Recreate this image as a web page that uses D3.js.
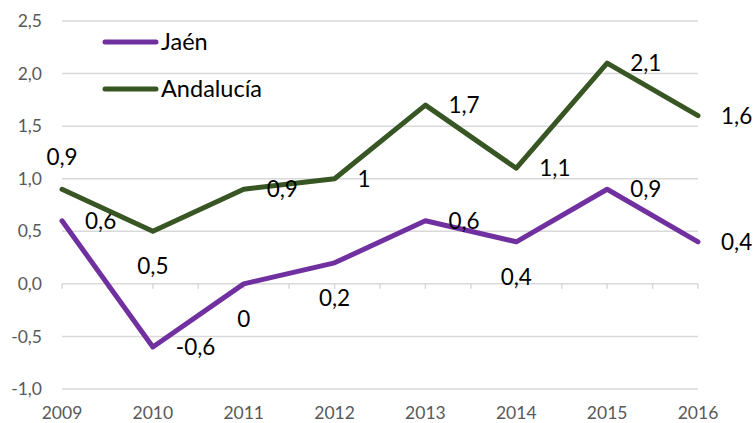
<!DOCTYPE html>
<html>
<head>
<meta charset="utf-8">
<script src="https://cdn.jsdelivr.net/npm/d3@7"></script>
<style>
  body { margin: 0; background: #fff; }
  text { font-family: Lato, "Open Sans", sans-serif; }
</style>
</head>
<body>
<script>
var years = ["2009", "2010", "2011", "2012", "2013", "2014", "2015", "2016"];
var jaen = [0.6, -0.6, 0, 0.2, 0.6, 0.4, 0.9, 0.4];
var andalucia = [0.9, 0.5, 0.9, 1, 1.7, 1.1, 2.1, 1.6];
var yTicks = [-1, -0.5, 0, 0.5, 1, 1.5, 2, 2.5];

// where each data label sits relative to its point
var jaenLabelPos = ["right", "right", "below", "below", "right", "below", "right", "right"];
var andaluciaLabelPos = ["above", "below", "right", "right", "right", "right", "right", "right"];

var width = 755, height = 423;

var locale = d3.formatLocale({decimal: ",", thousands: ".", grouping: [3], currency: ["", "€"], minus: "-"});
var fmtAxis = locale.format(".1f");
var fmtLabel = locale.format("~g");

var svg = d3.select("body").append("svg")
    .attr("width", width)
    .attr("height", height);

var xScale = d3.scalePoint()
    .domain(years)
    .range([62, 698]);

var yScale = d3.scaleLinear()
    .domain([-1, 2.5])
    .range([389, 21]);

// gridlines
svg.append("g")
    .selectAll("line")
    .data(yTicks)
    .enter().append("line")
        .attr("x1", 62)
        .attr("x2", 698)
        .attr("y1", function(d) { return yScale(d); })
        .attr("y2", function(d) { return yScale(d); })
        .attr("stroke", "#d9d9d9")
        .attr("stroke-width", 1.5);

// y labels
svg.append("g")
    .selectAll("text")
    .data(yTicks)
    .enter().append("text")
        .attr("x", 42)
        .attr("y", function(d) { return yScale(d); })
        .attr("dy", "0.35em")
        .attr("text-anchor", "end")
        .attr("fill", "#595959")
        .style("font-size", "17.5px")
        .text(function(d) { return fmtAxis(d); });

// tick marks on the zero line, between and at categories
var half = xScale.step() / 2;
var tickX = d3.range(0, (years.length - 1) * 2 + 1).map(function(i) { return 62 + i * half; });
svg.append("g")
    .selectAll("line")
    .data(tickX)
    .enter().append("line")
        .attr("x1", function(d) { return d; })
        .attr("x2", function(d) { return d; })
        .attr("y1", yScale(0))
        .attr("y2", yScale(0) + 5)
        .attr("stroke", "#d9d9d9")
        .attr("stroke-width", 1.5);

// x labels, low position
svg.append("g")
    .selectAll("text")
    .data(years)
    .enter().append("text")
        .attr("x", function(d) { return xScale(d); })
        .attr("y", 413)
        .attr("dy", "0.35em")
        .attr("text-anchor", "middle")
        .attr("fill", "#595959")
        .style("font-size", "17.5px")
        .text(function(d) { return d; });

var line = d3.line()
    .x(function(d, i) { return xScale(years[i]); })
    .y(function(d) { return yScale(d); });

var series = [
    {name: "Jaén", values: jaen, color: "#7030a0", pos: jaenLabelPos},
    {name: "Andalucía", values: andalucia, color: "#375623", pos: andaluciaLabelPos}
];

series.forEach(function(s, k) {
    svg.append("path")
        .datum(s.values)
        .attr("d", line)
        .attr("fill", "none")
        .attr("stroke", s.color)
        .attr("stroke-width", 5)
        .attr("stroke-linejoin", "round")
        .attr("stroke-linecap", "round");

    svg.append("g")
        .selectAll("text")
        .data(s.values)
        .enter().append("text")
            .attr("x", function(d, i) {
                var p = s.pos[i];
                return xScale(years[i]) + (p === "right" ? 23 : 0);
            })
            .attr("y", function(d, i) {
                var p = s.pos[i];
                var off = p === "above" ? -32 : (p === "below" ? 35 : 0);
                return yScale(d) + off;
            })
            .attr("dy", "0.35em")
            .attr("text-anchor", function(d, i) { return s.pos[i] === "right" ? "start" : "middle"; })
            .attr("fill", "#000")
            .style("font-size", "22.5px")
            .text(function(d) { return fmtLabel(d); });

    // legend
    var ly = 42 + k * 47;
    svg.append("line")
        .attr("x1", 105)
        .attr("x2", 156)
        .attr("y1", ly)
        .attr("y2", ly)
        .attr("stroke", s.color)
        .attr("stroke-width", 5)
        .attr("stroke-linecap", "round");
    svg.append("text")
        .attr("x", 161)
        .attr("y", ly)
        .attr("dy", "0.35em")
        .attr("fill", "#000")
        .style("font-size", "23.5px")
        .text(s.name);
});
</script>
</body>
</html>
